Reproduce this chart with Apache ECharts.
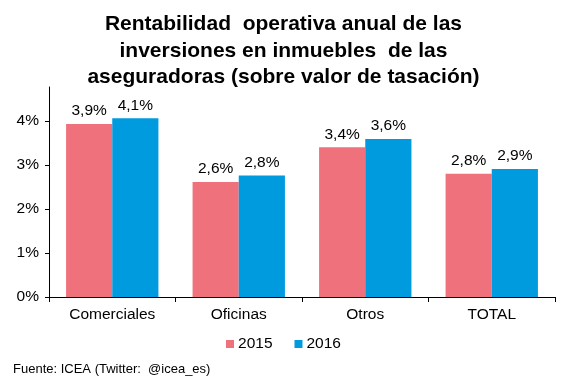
<!DOCTYPE html>
<html><head><meta charset="utf-8">
<script src="https://cdn.jsdelivr.net/npm/echarts@6/dist/echarts.min.js"></script>
<style>html,body{margin:0;padding:0;background:#fff}#c{width:567px;height:378px}</style>
</head><body><div id="c"></div>
<script>
const categories = ['Comerciales', 'Oficinas', 'Otros', 'TOTAL'];
const seriesNames = ['2015', '2016'];
const values2015 = [3.93, 2.61, 3.40, 2.80];
const values2016 = [4.06, 2.76, 3.59, 2.91];
const yTicks = [0, 1, 2, 3, 4];
const titleText = 'Rentabilidad  operativa anual de las\ninversiones en inmuebles  de las\naseguradoras (sobre valor de tasación)';
const sourceText = 'Fuente: ICEA (Twitter:  @icea_es)';

const font = '"Liberation Sans", Arial, sans-serif';
const fs = 15.5;
const chart = echarts.init(document.getElementById('c'), null, {renderer: 'canvas'});
const fmt = v => v.toFixed(1).replace('.', ',') + '%';
chart.setOption({
  animation: false,
  color: ['#EF717B', '#009ADF'],
  title: [{
    text: titleText, left: 'center', top: 6,
    textStyle: {fontFamily: font, fontSize: 21, fontWeight: 'bold', color: '#000', lineHeight: 26.5}
  }, {
    text: sourceText, left: 8, top: 358,
    textStyle: {fontFamily: font, fontSize: 13, fontWeight: 'normal', color: '#000'}
  }],
  legend: {
    data: seriesNames, left: 'center', top: 331, icon: 'rect', itemWidth: 8, itemHeight: 8, itemGap: 22,
    textStyle: {fontFamily: font, fontSize: fs, color: '#000', padding: [0, 0, 0, -1]}
  },
  grid: {left: 49, right: 12, top: 87, bottom: 81, containLabel: false},
  xAxis: {
    type: 'category', data: categories,
    axisLine: {lineStyle: {color: '#000', width: 1}},
    axisTick: {show: true, length: 5, lineStyle: {color: '#000'}},
    axisLabel: {fontFamily: font, fontSize: fs, color: '#000', margin: 10}
  },
  yAxis: {
    type: 'value', min: 0, max: 4.77, interval: 1,
    axisLine: {show: true, lineStyle: {color: '#000', width: 1}},
    axisTick: {show: true, length: 4, lineStyle: {color: '#000'}, customValues: yTicks},
    splitLine: {show: false},
    axisLabel: {fontFamily: font, fontSize: fs, color: '#000', margin: 10, customValues: yTicks,
      formatter: v => Math.round(v) + '%'}
  },
  series: [
    {name: seriesNames[0], type: 'bar', data: values2015, barGap: '0%', barCategoryGap: '27%',
     label: {show: true, position: 'top', fontFamily: font, fontSize: fs, color: '#000', formatter: p => fmt(p.value)}},
    {name: seriesNames[1], type: 'bar', data: values2016, barGap: '0%', barCategoryGap: '27%',
     label: {show: true, position: 'top', fontFamily: font, fontSize: fs, color: '#000', formatter: p => fmt(p.value)}}
  ]
});
</script></body></html>
